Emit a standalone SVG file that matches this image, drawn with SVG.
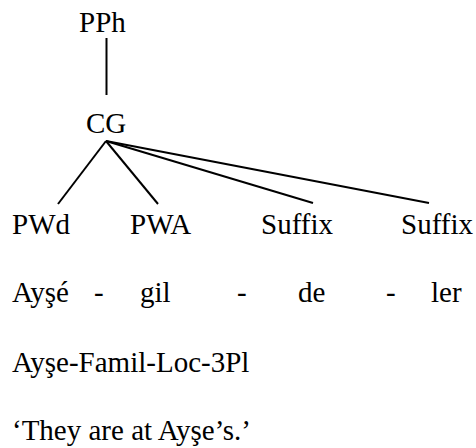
<svg xmlns="http://www.w3.org/2000/svg" width="476" height="448" viewBox="0 0 476 448">
<style>
text{font-family:"Liberation Serif","Times New Roman",serif;font-size:29px;fill:#000}
.e{stroke:#000;stroke-width:2;fill:none}
</style>
<rect width="476" height="448" fill="#fff"/>
<g id="connectors">
<line class="e" x1="106.5" y1="38" x2="106.5" y2="95"/>
<line class="e" x1="106" y1="141" x2="58" y2="204"/>
<line class="e" x1="106" y1="141" x2="158" y2="204"/>
<line class="e" x1="106" y1="141" x2="313" y2="203"/>
<line class="e" x1="106" y1="141" x2="429" y2="203"/>
</g>
<g id="PPh"><text x="79" y="32">PPh</text></g>
<g id="CG"><text x="86" y="133">CG</text></g>
<g id="PWd"><text x="12" y="234">PWd</text></g>
<g id="PWA"><text x="130" y="234">PWA</text></g>
<g id="Suffix1"><text x="261" y="234">Suffix</text></g>
<g id="Suffix2"><text x="401" y="234">Suffix</text></g>
<g id="morphemes">
<text x="12" y="302">Ayşé</text>
<text x="94" y="302">-</text>
<text x="140" y="302">gil</text>
<text x="237" y="302">-</text>
<text x="298" y="302">de</text>
<text x="386" y="302">-</text>
<text x="431" y="302">ler</text>
</g>
<g id="gloss"><text x="12" y="372">Ayşe-Famil-Loc-3Pl</text></g>
<g id="translation"><text x="12" y="440">‘They are at Ayşe’s.’</text></g>
</svg>
